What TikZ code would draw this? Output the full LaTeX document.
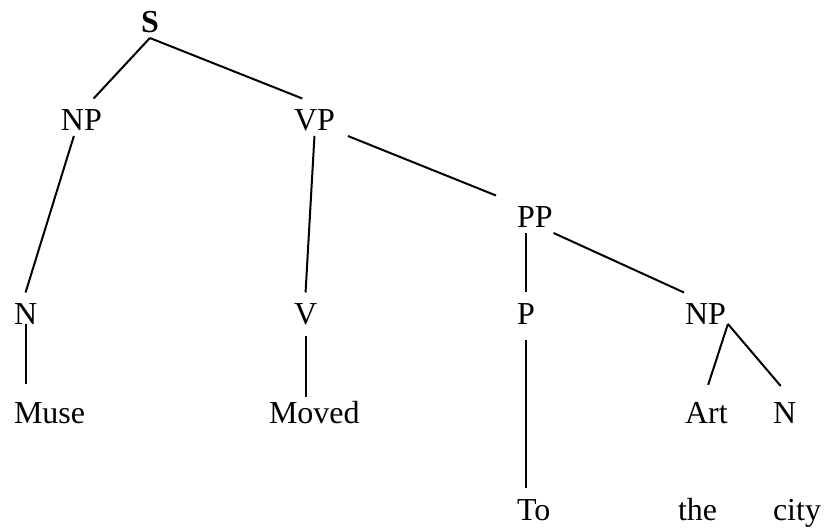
\documentclass[tikz,border=0pt]{standalone}
\usepackage{fontspec}
\setmainfont{Liberation Serif}

\begin{document}
\begin{tikzpicture}[-,x=0.5pt,y=-0.5pt,line width=1pt,word/.style={anchor=base west,inner xsep=0pt,inner ysep=2pt,text height=13.75pt,text depth=0pt,font=\fontsize{16}{19}\selectfont}]

            \useasboundingbox (0,0) rectangle (825,529);

            \node[word] (s) at (140,33) {\textbf{S}};
            \node[word] (np) at (60,131) {NP};
            \node[word] (vp) at (293,131) {VP};
            \node[word] (pp) at (516,228) {PP};
            \node[word] (n) at (13,325) {N};
            \node[word] (v) at (293,325) {V};
            \node[word] (p) at (516,325) {P};
            \node[word] (np2) at (684,325) {NP};
            \node[word] (muse) at (13,423) {Muse};
            \node[word] (moved) at (268,423) {Moved};
            \node[word] (art) at (684,423) {Art};
            \node[word] (n2) at (772,423) {N};
            \node[word] (to) at (516,520) {To};
            \node[word] (the) at (677,520) {the};
            \node[word] (city) at (772,520) {city};

            \draw[-] (s.south) to (np.57);
            \draw[-] (s.south) to (vp.123);
            \draw[-] (np.248) to (n.north);
            \draw[-] (vp.south) to (v.north);
            \draw[-] ([xshift=6pt]vp.south east) to ([xshift=-10pt]pp.north west);
            \draw[-] (p.north |- pp.south) to (p.north);
            \draw[-] (pp.south east) to (np2.north west);
            \draw[-, shorten <=-3pt, shorten >=3pt] (n.south) to (n.south |- muse.north);
            \draw[-, shorten <=3pt, shorten >=-3pt] (v.south) to (v.south |- moved.north);
            \draw[-, shorten <=5pt] (p.south) to (p.south |- to.north);
            \draw[-, shorten >=3pt] ([shift={(1,-6)}]np2.south east) to (art.north);
            \draw[-, shorten >=3pt] ([shift={(1,-6)}]np2.south east) to (n2.north);
\end{tikzpicture}
\end{document}
